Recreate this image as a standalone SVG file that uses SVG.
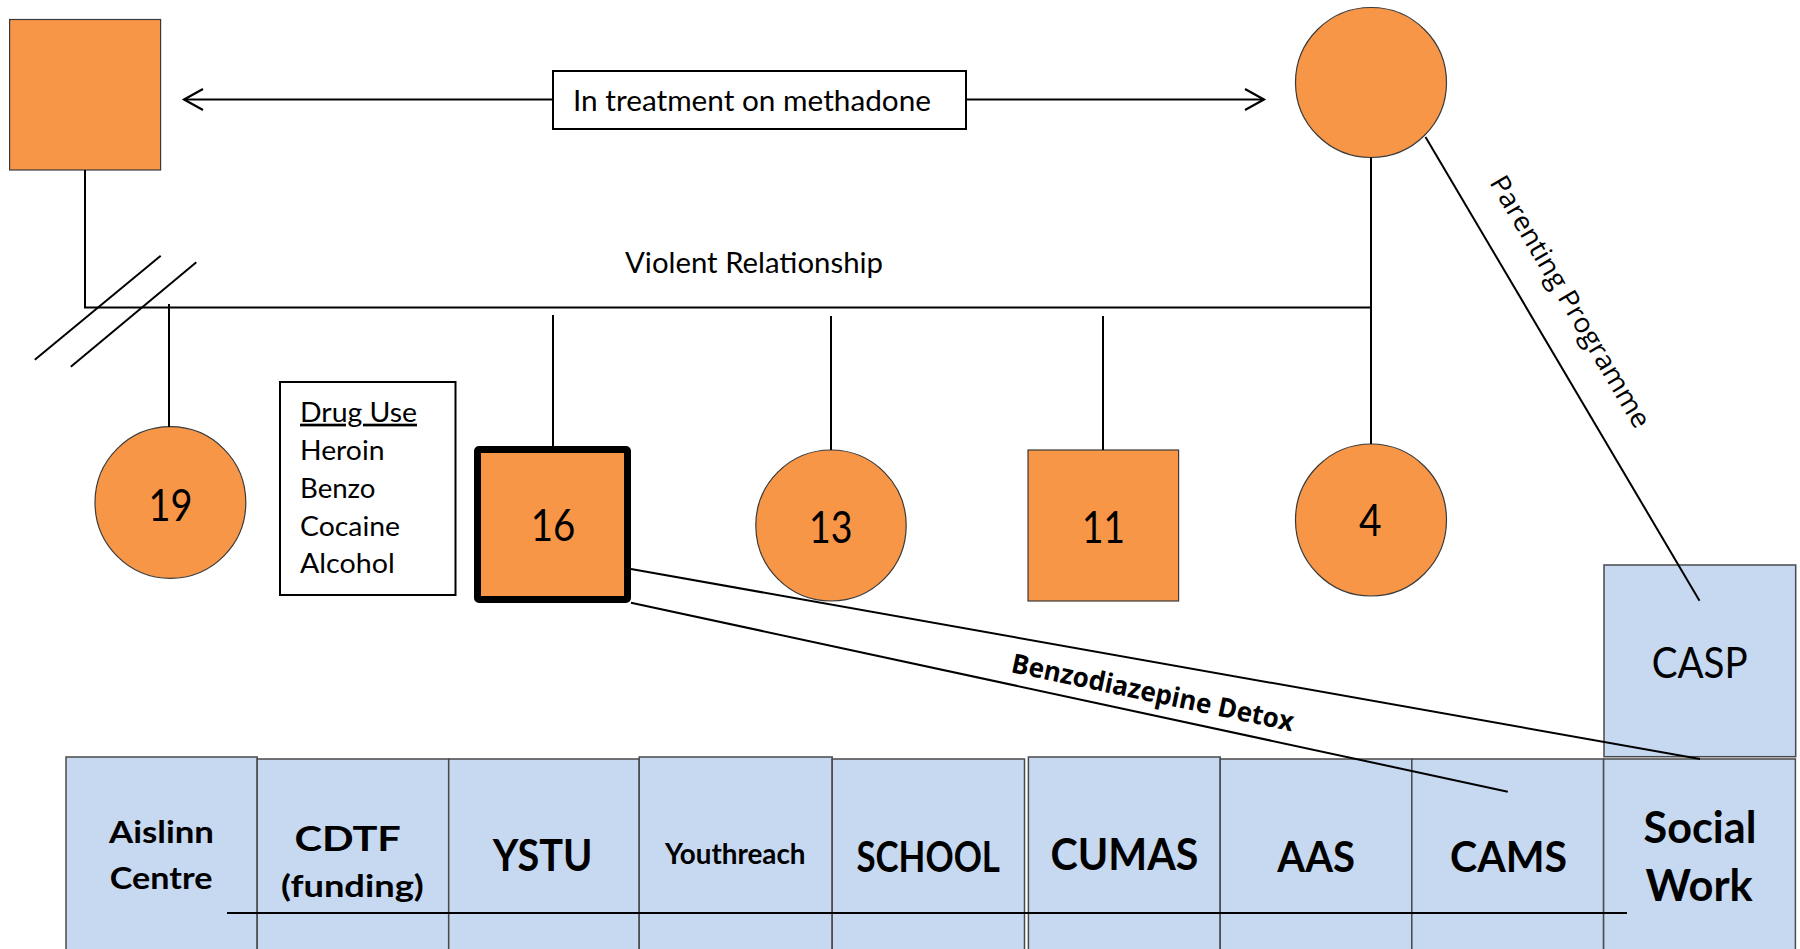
<svg xmlns="http://www.w3.org/2000/svg" width="1800" height="949" viewBox="0 0 1800 949">
  <style>
    .bg { fill: #ffffff; }
    .person { fill: #F79646; stroke: #3a3a3a; stroke-width: 1.2; }
    .index { fill: #F79646; stroke: #000000; stroke-width: 7; stroke-linejoin: round; }
    .svc { fill: #C6D9F1; stroke: #4a4a4a; stroke-width: 1.5; }
    .link { stroke: #000000; stroke-width: 2; fill: none; }
    .note { fill: #ffffff; stroke: #000000; stroke-width: 2; }
    .t { font-family: Lato, "Liberation Sans", sans-serif; fill: #000000; }
    .b { font-weight: bold; }
    .o { font-family: "Open Sans", "Liberation Sans", sans-serif; fill: #000000; }
  </style>
  <defs>
    <marker id="chev" viewBox="0 0 24 24" refX="21" refY="12" markerWidth="24" markerHeight="24" markerUnits="userSpaceOnUse" orient="auto-start-reverse">
      <path d="M2,1.5 L21,12 L2,22.5" fill="none" stroke="#000000" stroke-width="2.2"/>
    </marker>
  </defs>

  <rect class="bg" x="0" y="0" width="1800" height="949"/>

  <!-- parents -->
  <g id="father">
    <rect class="person" x="9.6" y="19.5" width="151" height="150.5"/>
  </g>
  <g id="mother">
    <ellipse class="person" cx="1371" cy="82.5" rx="75.5" ry="75"/>
  </g>

  <!-- children -->
  <g id="child-19">
    <ellipse class="person" cx="170.4" cy="502.5" rx="75.4" ry="75.8"/>
    <text class="t" x="148.5" y="521" font-size="45" textLength="44" lengthAdjust="spacingAndGlyphs">19</text>
  </g>
  <g id="drug-use">
    <rect class="note" x="280" y="382" width="175.5" height="213"/>
    <text class="t" x="300" y="421.7" font-size="27" textLength="117" lengthAdjust="spacingAndGlyphs" text-decoration="underline">Drug Use</text>
    <text class="t" x="300" y="459.5" font-size="27" textLength="84.5" lengthAdjust="spacingAndGlyphs">Heroin</text>
    <text class="t" x="300" y="497.7" font-size="27" textLength="75.5" lengthAdjust="spacingAndGlyphs">Benzo</text>
    <text class="t" x="300" y="535.7" font-size="27" textLength="100" lengthAdjust="spacingAndGlyphs">Cocaine</text>
    <text class="t" x="300" y="573" font-size="27" textLength="94.7" lengthAdjust="spacingAndGlyphs">Alcohol</text>
  </g>
  <g id="child-16">
    <rect class="index" x="477.5" y="449.5" width="150" height="150" rx="1.5"/>
    <text class="t" x="530.7" y="541" font-size="45" textLength="44.6" lengthAdjust="spacingAndGlyphs">16</text>
  </g>
  <g id="child-13">
    <ellipse class="person" cx="831" cy="525.5" rx="75.2" ry="75.5"/>
    <text class="t" x="809" y="542.5" font-size="45" textLength="43.5" lengthAdjust="spacingAndGlyphs">13</text>
  </g>
  <g id="child-11">
    <rect class="person" x="1028" y="450" width="150.6" height="151" stroke="#555555"/>
    <text class="t" x="1082" y="542.5" font-size="45" textLength="43" lengthAdjust="spacingAndGlyphs">11</text>
  </g>
  <g id="child-4">
    <ellipse class="person" cx="1371" cy="520" rx="75.5" ry="76"/>
    <text class="t" x="1359" y="536" font-size="45" textLength="22.6" lengthAdjust="spacingAndGlyphs">4</text>
  </g>

  <!-- services -->
  <g id="svc-casp">
    <rect class="svc" x="1604" y="565" width="191.7" height="191.7"/>
    <text class="t" x="1651.7" y="678" font-size="42" textLength="96" lengthAdjust="spacingAndGlyphs">CASP</text>
  </g>
  <g id="svc-aislinn">
    <rect class="svc" x="66" y="757" width="191.2" height="210"/>
    <text class="t b" x="109" y="843.3" font-size="31" textLength="105" lengthAdjust="spacingAndGlyphs">Aislinn</text>
    <text class="t b" x="109.8" y="889.3" font-size="31" textLength="102.6" lengthAdjust="spacingAndGlyphs">Centre</text>
  </g>
  <g id="svc-cdtf">
    <rect class="svc" x="257.2" y="759" width="191.5" height="210"/>
    <text class="t b" x="294.4" y="851" font-size="34" textLength="106.5" lengthAdjust="spacingAndGlyphs">CDTF</text>
    <text class="t b" x="281" y="896.7" font-size="31" textLength="142.8" lengthAdjust="spacingAndGlyphs">(funding)</text>
  </g>
  <g id="svc-ystu">
    <rect class="svc" x="448.7" y="759" width="190.5" height="210"/>
    <text class="t b" x="492.8" y="871" font-size="43" textLength="99.6" lengthAdjust="spacingAndGlyphs">YSTU</text>
  </g>
  <g id="svc-youthreach">
    <rect class="svc" x="639.2" y="757" width="193" height="210"/>
    <text class="t b" x="664.9" y="864" font-size="28.5" textLength="140.6" lengthAdjust="spacingAndGlyphs">Youthreach</text>
  </g>
  <g id="svc-school">
    <rect class="svc" x="832.2" y="759" width="192.3" height="210"/>
    <text class="t b" x="856.4" y="872" font-size="41.5" textLength="143.6" lengthAdjust="spacingAndGlyphs">SCHOOL</text>
  </g>
  <g id="svc-cumas">
    <rect class="svc" x="1028.4" y="757" width="191.8" height="210"/>
    <text class="t b" x="1050.6" y="870" font-size="44.5" textLength="147.8" lengthAdjust="spacingAndGlyphs">CUMAS</text>
  </g>
  <g id="svc-aas">
    <rect class="svc" x="1220.2" y="759" width="191.6" height="210"/>
    <text class="t b" x="1277.3" y="872" font-size="41.5" textLength="77.7" lengthAdjust="spacingAndGlyphs">AAS</text>
  </g>
  <g id="svc-cams">
    <rect class="svc" x="1411.8" y="759" width="191.8" height="210"/>
    <text class="t b" x="1450" y="872" font-size="41.5" textLength="117" lengthAdjust="spacingAndGlyphs">CAMS</text>
  </g>
  <g id="svc-social-work">
    <rect class="svc" x="1603.6" y="759" width="191.8" height="210"/>
    <text class="t b" x="1643.6" y="843" font-size="44" textLength="112.9" lengthAdjust="spacingAndGlyphs">Social</text>
    <text class="t b" x="1645.5" y="900.5" font-size="44.5" textLength="107.3" lengthAdjust="spacingAndGlyphs">Work</text>
  </g>

  <!-- family lines, relationship arrows and service links (drawn over the tiles) -->
  <g id="connectors">
    <!-- methadone treatment arrow between the parents -->
    <line class="link" x1="553" y1="99.5" x2="184" y2="99.5" marker-end="url(#chev)"/>
    <line class="link" x1="966" y1="99.5" x2="1264" y2="99.5" marker-end="url(#chev)"/>
    <!-- parents to sibling bar -->
    <polyline class="link" points="85,170 85,307.5 1371,307.5"/>
    <line class="link" x1="1371" y1="157.5" x2="1371" y2="444"/>
    <!-- separation marks -->
    <line class="link" x1="160.7" y1="255.7" x2="34.8" y2="359.7"/>
    <line class="link" x1="196.3" y1="262.3" x2="70.8" y2="366.7"/>
    <!-- children -->
    <line class="link" x1="169" y1="304" x2="169" y2="427"/>
    <line class="link" x1="553" y1="315" x2="553" y2="447"/>
    <line class="link" x1="831" y1="316" x2="831" y2="450"/>
    <line class="link" x1="1103" y1="316" x2="1103" y2="450"/>
    <!-- service links -->
    <line class="link" x1="1425.5" y1="137" x2="1699.5" y2="600.7"/>
    <line class="link" x1="631" y1="569" x2="1700" y2="759"/>
    <line class="link" x1="631" y1="602.7" x2="1507.8" y2="791.7"/>
    <!-- service row divider -->
    <line class="link" x1="227" y1="913" x2="1627" y2="913"/>
  </g>

  <!-- connector labels -->
  <g id="labels">
    <rect class="note" x="553" y="71" width="413" height="58"/>
    <text class="t" x="573" y="111" font-size="28" textLength="358" lengthAdjust="spacingAndGlyphs">In treatment on methadone</text>
    <text class="t" x="625" y="273" font-size="29" textLength="258" lengthAdjust="spacingAndGlyphs">Violent Relationship</text>
    <text class="o" transform="translate(1489,182.6) rotate(59.35)" font-size="27" textLength="288" lengthAdjust="spacingAndGlyphs">Parenting Programme</text>
    <text class="o b" transform="translate(1010,672) rotate(11.9)" font-size="27" textLength="288" lengthAdjust="spacingAndGlyphs">Benzodiazepine Detox</text>
  </g>
</svg>
